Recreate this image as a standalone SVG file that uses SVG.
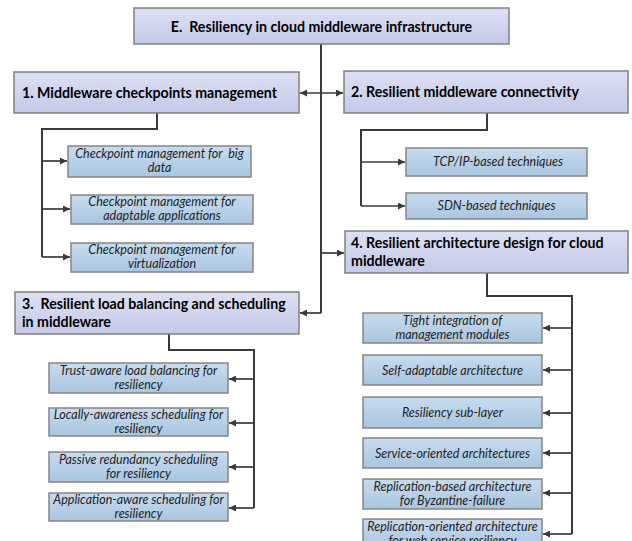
<svg xmlns="http://www.w3.org/2000/svg" width="632" height="541" viewBox="0 0 632 541">
<style>
  .hdr rect { fill: url(#gHdr); stroke: #808080; stroke-width: 1.5; }
  .sub rect { fill: url(#gSub); stroke: #858585; stroke-width: 1.5; }
  .ht { font-family: Lato, "Liberation Sans", sans-serif; font-weight: bold; font-size: 14.2px; fill: #000; white-space: pre; }
  .st { font-family: Lato, "Liberation Sans", sans-serif; font-style: italic; font-size: 12.5px; fill: #1e1e1e; text-anchor: middle; white-space: pre; }
  .c { fill: none; stroke: #3a3a3a; stroke-width: 2; }
  .a { fill: none; stroke: #3a3a3a; stroke-width: 1.7; marker-end: url(#ah); }
</style>
<defs>
  <linearGradient id="gHdr" x1="0" y1="0" x2="0" y2="1">
    <stop offset="0" stop-color="#dde0f3"/>
    <stop offset="1" stop-color="#c4c9e8"/>
  </linearGradient>
  <linearGradient id="gSub" x1="0" y1="0" x2="0" y2="1">
    <stop offset="0" stop-color="#c8dbee"/>
    <stop offset="1" stop-color="#a9c5e0"/>
  </linearGradient>
  <marker id="ah" viewBox="0 0 8 8" refX="8" refY="4" markerWidth="7" markerHeight="7" markerUnits="userSpaceOnUse" orient="auto-start-reverse">
    <path d="M0,0 L8,4 L0,8 z" fill="#3a3a3a"/>
  </marker>
</defs>
<rect width="632" height="541" fill="#ffffff"/>

<g id="connectors">
  <path class="c" d="M321,44 V313"/>
  <path class="a" d="M321,313 H300"/>
  <path class="a" d="M321,253 H344"/>
  <path class="a" d="M300,93 H343" marker-start="url(#ah)"/>
  <path class="c" d="M157,113 V129 H42 V257"/>
  <path class="a" d="M42,161 H67"/>
  <path class="a" d="M42,209 H70"/>
  <path class="a" d="M42,257 H70"/>
  <path class="c" d="M487,113 V130 H361 V206"/>
  <path class="a" d="M361,162 H405"/>
  <path class="a" d="M361,206 H405"/>
  <path class="c" d="M169,334 V350 H254 V508"/>
  <path class="a" d="M254,379 H229"/>
  <path class="a" d="M254,423 H229"/>
  <path class="a" d="M254,467 H229"/>
  <path class="a" d="M254,508 H229"/>
  <path class="c" d="M487,273 V296 H572 V534"/>
  <path class="a" d="M572,328 H543"/>
  <path class="a" d="M572,370 H543"/>
  <path class="a" d="M572,413 H543"/>
  <path class="a" d="M572,453 H543"/>
  <path class="a" d="M572,493 H543"/>
  <path class="a" d="M572,534 H543"/>
</g>

<g id="root" class="hdr">
  <rect x="134" y="8" width="375" height="36"/>
  <text class="ht" x="321.5" y="31.5" text-anchor="middle">E.  Resiliency in cloud middleware infrastructure</text>
</g>

<g id="n1" class="hdr">
  <rect x="14" y="72" width="285" height="41"/>
  <text class="ht" x="22" y="97.5">1. Middleware checkpoints management</text>
</g>
<g id="n2" class="hdr">
  <rect x="344" y="71" width="284" height="42"/>
  <text class="ht" x="351" y="97">2. Resilient middleware connectivity</text>
</g>
<g id="n3" class="hdr">
  <rect x="15" y="292" width="284" height="42"/>
  <text class="ht" x="22" y="309">3.  Resilient load balancing and scheduling</text>
  <text class="ht" x="22" y="327">in middleware</text>
</g>
<g id="n4" class="hdr">
  <rect x="345" y="231" width="283" height="42"/>
  <text class="ht" x="351" y="248">4. Resilient architecture design for cloud</text>
  <text class="ht" x="351" y="266">middleware</text>
</g>

<g id="n1a" class="sub">
  <rect x="68" y="146" width="183" height="31"/>
  <text class="st" x="159.5" y="157.5">Checkpoint management for  big</text>
  <text class="st" x="159.5" y="172">data</text>
</g>
<g id="n1b" class="sub">
  <rect x="71" y="195" width="182" height="29"/>
  <text class="st" x="162" y="205.5">Checkpoint management for</text>
  <text class="st" x="162" y="220">adaptable applications</text>
</g>
<g id="n1c" class="sub">
  <rect x="71" y="243" width="182" height="29"/>
  <text class="st" x="162" y="253.5">Checkpoint management for</text>
  <text class="st" x="162" y="268">virtualization</text>
</g>

<g id="n2a" class="sub">
  <rect x="406" y="148" width="181" height="28"/>
  <text class="st" x="498" y="166">TCP/IP-based techniques</text>
</g>
<g id="n2b" class="sub">
  <rect x="406" y="193" width="181" height="26"/>
  <text class="st" x="496.5" y="210">SDN-based techniques</text>
</g>

<g id="n3a" class="sub">
  <rect x="49" y="363" width="179" height="30"/>
  <text class="st" x="138.5" y="374.5">Trust-aware load balancing for</text>
  <text class="st" x="138.5" y="389">resiliency</text>
</g>
<g id="n3b" class="sub">
  <rect x="49" y="408" width="179" height="28"/>
  <text class="st" x="138.5" y="418.5">Locally-awareness scheduling for</text>
  <text class="st" x="138.5" y="433">resiliency</text>
</g>
<g id="n3c" class="sub">
  <rect x="49" y="452" width="179" height="30"/>
  <text class="st" x="138.5" y="463.5">Passive redundancy scheduling</text>
  <text class="st" x="138.5" y="478">for resiliency</text>
</g>
<g id="n3d" class="sub">
  <rect x="49" y="493" width="179" height="28"/>
  <text class="st" x="138.5" y="503.5">Application-aware scheduling for</text>
  <text class="st" x="138.5" y="518">resiliency</text>
</g>

<g id="n4a" class="sub">
  <rect x="363" y="313" width="179" height="30"/>
  <text class="st" x="452.5" y="324.5">Tight integration of</text>
  <text class="st" x="452.5" y="339">management modules</text>
</g>
<g id="n4b" class="sub">
  <rect x="363" y="355" width="179" height="30"/>
  <text class="st" x="452.5" y="374.5">Self-adaptable architecture</text>
</g>
<g id="n4c" class="sub">
  <rect x="363" y="397" width="179" height="31"/>
  <text class="st" x="452.5" y="417">Resiliency sub-layer</text>
</g>
<g id="n4d" class="sub">
  <rect x="363" y="438" width="179" height="30"/>
  <text class="st" x="452.5" y="457.5">Service-oriented architectures</text>
</g>
<g id="n4e" class="sub">
  <rect x="363" y="479" width="179" height="30"/>
  <text class="st" x="452.5" y="490.5">Replication-based architecture</text>
  <text class="st" x="452.5" y="505">for Byzantine-failure</text>
</g>
<g id="n4f" class="sub">
  <rect x="363" y="519" width="179" height="30"/>
  <text class="st" x="452.5" y="530.5">Replication-oriented architecture</text>
  <text class="st" x="452.5" y="545">for web service resiliency</text>
</g>
</svg>
